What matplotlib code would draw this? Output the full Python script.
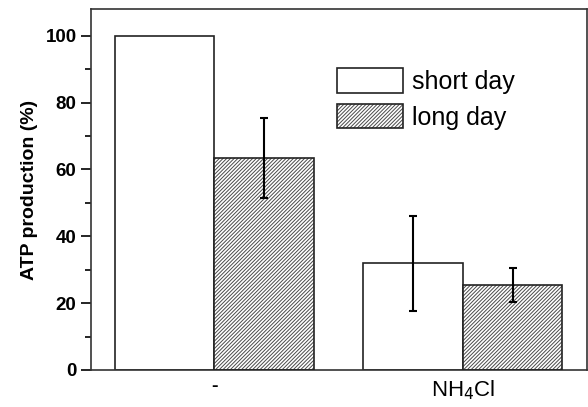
import numpy as np
import matplotlib
matplotlib.use("Agg")
import matplotlib.pyplot as plt
from matplotlib.patches import Patch

plt.rcParams['font.family'] = ['Liberation Sans', 'DejaVu Sans']
plt.rcParams['hatch.linewidth'] = 0.7

# 数据
groups = ["-", "NH$_4$Cl"]
series_names = ["short day", "long day"]
short_day = [100.0, 31.9]
short_err = [0.0, 14.2]
long_day = [63.4, 25.4]
long_err = [11.9, 5.0]

fig = plt.figure(figsize=(5.88, 4.07), dpi=100)
ax = fig.add_axes([0.155, 0.091, 0.843, 0.887])

x = np.arange(len(groups))
w = 0.4
edge = '#222222'
hatch = '/' * 9

# short day: 白色柱
ax.bar(x - w / 2, short_day, w, color='white', edgecolor=edge, linewidth=1.2, zorder=2)
# long day: 斜线填充（先画灰色斜线，再画黑边框）
ax.bar(x + w / 2, long_day, w, color='white', edgecolor='#4a4a4a', hatch=hatch,
       linewidth=0, zorder=2)
ax.bar(x + w / 2, long_day, w, fill=False, edgecolor=edge, linewidth=1.2, zorder=3)

# 误差棒
se = np.array(short_err)
mask = se > 0
ax.errorbar((x - w / 2)[mask], np.array(short_day)[mask], yerr=se[mask], fmt='none',
            ecolor='black', elinewidth=1.5, capsize=2.7, capthick=1.5, zorder=4)
ax.errorbar(x + w / 2, long_day, yerr=long_err, fmt='none',
            ecolor='black', elinewidth=1.5, capsize=2.7, capthick=1.5, zorder=4)

ax.set_xlim(-0.494, 1.498)
ax.set_ylim(0, 108)
ax.set_xticks(x)
ax.set_xticklabels(groups)
ax.tick_params(axis='x', length=0, pad=6)
xl = ax.get_xticklabels()
xl[0].set_fontweight('bold')
xl[0].set_fontsize(14)
xl[1].set_fontsize(16)

ax.set_yticks(np.arange(0, 101, 20))
ax.set_yticks(np.arange(10, 100, 20), minor=True)
ax.tick_params(axis='y', which='major', direction='out', length=7, width=1.2, labelsize=13.5)
ax.tick_params(axis='y', which='minor', direction='out', length=4, width=1.2)
for lab in ax.get_yticklabels():
    lab.set_fontweight('bold')
ax.set_ylabel("ATP production (%)", fontsize=14, fontweight='bold', labelpad=5)

for s in ax.spines.values():
    s.set_linewidth(1.2)
    s.set_edgecolor('#333333')

h1 = Patch(facecolor='white', edgecolor=edge, linewidth=1.2)
h2a = Patch(facecolor='white', edgecolor='#4a4a4a', hatch=hatch, linewidth=0)
h2b = Patch(fill=False, edgecolor=edge, linewidth=1.2)
ax.legend([h1, (h2a, h2b)], series_names, loc='upper left',
          bbox_to_anchor=(0.496, 0.837), frameon=False, fontsize=18,
          handlelength=2.65, handleheight=1.15, labelspacing=0.4,
          handletextpad=0.35, borderpad=0, borderaxespad=0)

fig.savefig("out.png", dpi=100)
